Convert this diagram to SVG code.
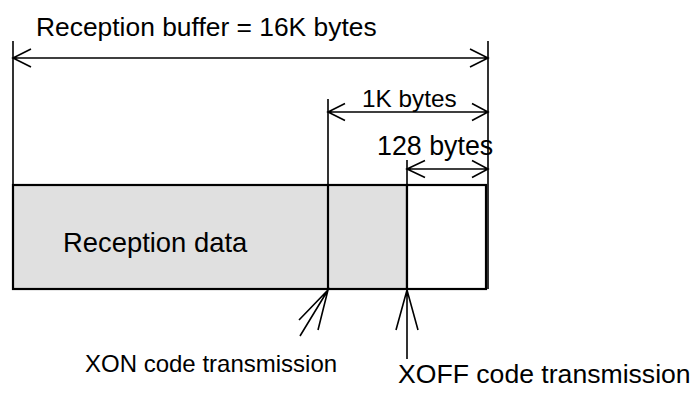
<svg xmlns="http://www.w3.org/2000/svg" width="691" height="399" viewBox="0 0 691 399">
<style>
text{font-family:"Liberation Sans",Arial,sans-serif;fill:#000}
.ln{stroke:#000;stroke-width:1.6;fill:none}
.bx{stroke:#000;stroke-width:2.2}
</style>
<rect width="691" height="399" fill="#fff"/>
<g id="buffer">
<rect class="bx" x="13" y="185" width="394" height="104" fill="#e0e0e0"/>
<rect class="bx" x="407" y="185" width="79" height="104" fill="#fff"/>
<line class="bx" x1="328" y1="185" x2="328" y2="289"/>
<text x="63" y="252" font-size="27.4">Reception data</text>
</g>
<g id="dimensions" class="ln">
<path d="M13,41 V185 M488,41 V289 M328,99 V185 M407,160 V185"/>
<path d="M13,58 H488 M31,49 L13,58 L31,67 M470,49 L488,58 L470,67"/>
<path d="M328,112 H488 M345,103.5 L328,112 L345,120.5 M472,103.5 L488,112 L472,120.5"/>
<path d="M407,169 H488 M425,160.5 L407,169 L425,177.5 M472,160.5 L488,169 L472,177.5"/>
</g>
<g id="dimension-labels">
<text x="36" y="36" font-size="26.4">Reception buffer = 16K bytes</text>
<text x="362" y="107" font-size="24.3">1K bytes</text>
<text x="377" y="155" font-size="26.8">128 bytes</text>
</g>
<g id="connectors" class="ln">
<path d="M300,336 L328,290 M299,320 L328,290 L318,330"/>
<path d="M407,359 V290 M396,330 L407,290 L418,330"/>
</g>
<g id="xon">
<text x="85" y="372" font-size="24">XON code transmission</text>
</g>
<g id="xoff">
<text x="398" y="383" font-size="26.6">XOFF code transmission</text>
</g>
</svg>
